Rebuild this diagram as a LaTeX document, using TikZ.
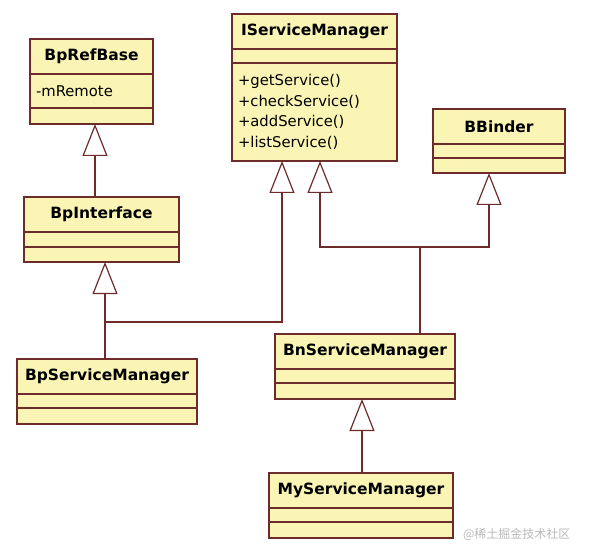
\documentclass[tikz,border=0pt]{standalone}
\usepackage{fontspec}
\setmainfont{DejaVu Sans}
\newfontfamily\cjk{Noto Sans CJK SC}
\usepackage{tikz}
\usetikzlibrary{arrows.meta,positioning,calc}
\definecolor{note}{HTML}{FAF5B4}
\definecolor{edge}{HTML}{6E2B2B}

\begin{document}
\begin{tikzpicture}[x=1pt,y=-1pt,
head/.style={draw=edge,fill=note,line width=1.2pt,outer sep=0pt,inner sep=0pt,
  minimum width=#1,minimum height=35,font=\bfseries\fontsize{15.5}{18}\selectfont},
slot/.style={draw=edge,fill=note,line width=1.2pt,outer sep=0pt,inner sep=0pt,
  minimum width=#1,minimum height=15},
body/.style={draw=edge,fill=note,line width=1.2pt,outer sep=0pt,inner ysep=0pt,inner xsep=6pt,
  text width=#1,align=left,font=\fontsize{14.8}{20.7}\selectfont},
ext/.style={draw=edge,line width=1.2pt,-{Triangle[open,length=32pt,width=25pt]}}]
\useasboundingbox (0,0) rectangle (589,556);
% classes
\node[head=123,anchor=north west] (bprefbase) at (30,39) {BpRefBase};
\node[body=111,minimum height=34,below=0pt of bprefbase] (bprefbase-a) {-mRemote};
\node[slot=123,minimum height=16,below=0pt of bprefbase-a] (bprefbase-b) {};
\node[head=155,anchor=north west] (bpinterface) at (24,197) {BpInterface};
\node[slot=155,below=0pt of bpinterface] (bpinterface-a) {};
\node[slot=155,below=0pt of bpinterface-a] (bpinterface-b) {};
\node[head=165,anchor=north west] (isvcmgr) at (232,14) {IServiceManager};
\node[slot=165,minimum height=14,below=0pt of isvcmgr] (isvcmgr-a) {};
\node[body=153,minimum height=98,below=0pt of isvcmgr-a] (isvcmgr-b)
  {+getService()\\+checkService()\\+addService()\\+listService()};
\node[head=132,anchor=north west] (bbinder) at (433,109) {BBinder};
\node[slot=132,minimum height=14,below=0pt of bbinder] (bbinder-a) {};
\node[slot=132,below=0pt of bbinder-a] (bbinder-b) {};
\node[head=180,anchor=north west] (bpsvcmgr) at (17,359) {BpServiceManager};
\node[slot=180,minimum height=14,below=0pt of bpsvcmgr] (bpsvcmgr-a) {};
\node[slot=180,minimum height=16,below=0pt of bpsvcmgr-a] (bpsvcmgr-b) {};
\node[head=180,anchor=north west] (bnsvcmgr) at (275,334) {BnServiceManager};
\node[slot=180,minimum height=14,below=0pt of bnsvcmgr] (bnsvcmgr-a) {};
\node[slot=180,minimum height=16,below=0pt of bnsvcmgr-a] (bnsvcmgr-b) {};
\node[head=184,anchor=north west] (mysvcmgr) at (269,473) {MyServiceManager};
\node[slot=184,minimum height=14,below=0pt of mysvcmgr] (mysvcmgr-a) {};
\node[slot=184,minimum height=16,below=0pt of mysvcmgr-a] (mysvcmgr-b) {};
% joints
\coordinate (bpjoin) at (105,322);
\coordinate (bnjoin) at (420,247);
% inheritance
\draw[ext] ([xshift=3.5pt]bprefbase-b.south |- bpinterface.north) -- ([xshift=3.5pt]bprefbase-b.south);
\draw[ext] (bpsvcmgr.north -| bpjoin) -- (bpjoin |- bpinterface-b.south);
\draw[ext] (bpjoin) -| ([xshift=-32.5pt]isvcmgr-b.south);
\draw[draw=edge,line width=1.2pt] (bnsvcmgr.north -| bnjoin) -- (bnjoin);
\draw[ext] (bnjoin) -| ([xshift=5.5pt]isvcmgr-b.south);
\draw[ext] (bnjoin) -| ([xshift=-10pt]bbinder-b.south);
\draw[ext] ([xshift=1pt]mysvcmgr.north) -- ([xshift=1pt]mysvcmgr.north |- bnsvcmgr-b.south);
\node[text=gray!55,font=\cjk\fontsize{12}{14}\selectfont,anchor=east] (mark) at (574,534) {@稀土掘金技术社区};
\end{tikzpicture}
\end{document}
